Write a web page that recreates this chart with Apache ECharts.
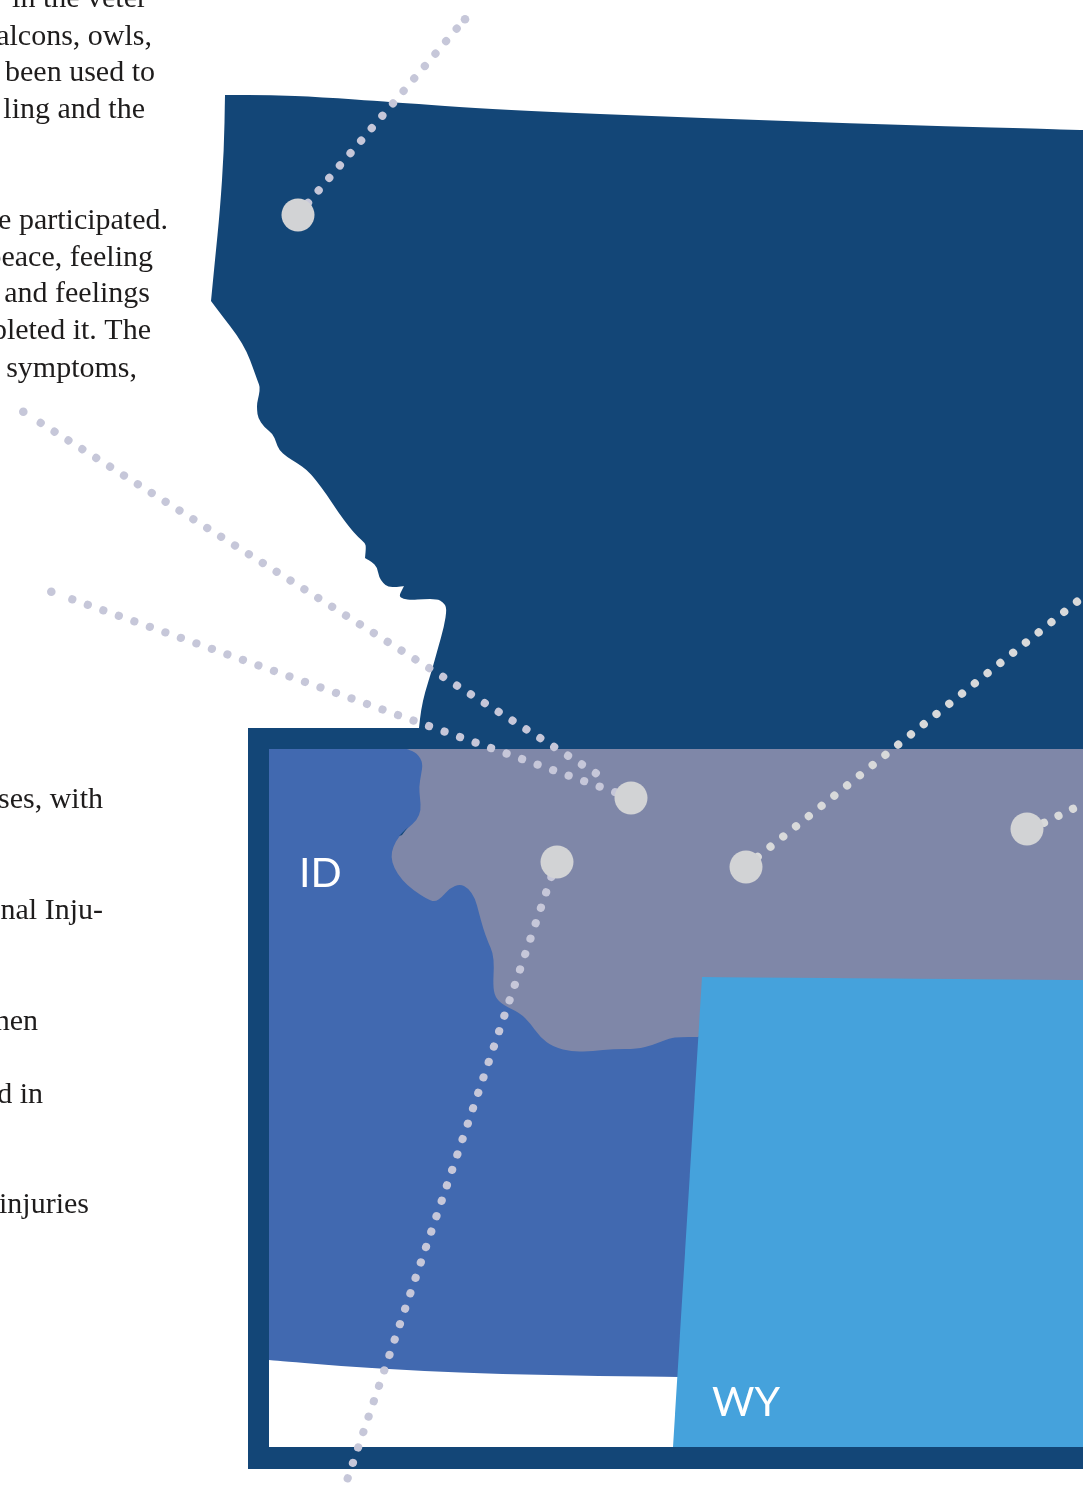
<!DOCTYPE html>
<html><head><meta charset="utf-8">
<style>html,body{margin:0;padding:0;background:#fff;overflow:hidden}#c{width:1083px;height:1492px}</style>
<script src="https://cdn.jsdelivr.net/npm/echarts@6/dist/echarts.min.js"></script>
</head><body><div id="c"></div>
<script>
// Region outlines (x, y). A repeated vertex marks a sharp corner.
var montana = [[225,95],[225,95],[270,95],[320,97],[390,102],[500,110],[700,118],[900,125],[1083,130],[1083,130],
 [1083,1469],[1083,1469],[248,1469],[248,1469],[248,728],[248,728],[419,728],[419,728],
 [421,710],[425,692],[432,670],[438,648],[444,627],[447,608],[443,602],[437,599],[423,599],[412,600],[403,599],[399,596],[402,590],[404,586],[404,586],
 [397,587],[388,587],[383,583],[379,577],[377,567],[372,562],[365,558],[365,558],[366,547],[365,543],[358,537],[350,528],[338,512],[327,495],[315,479],[307,470],[297,463],[287,457],[279,450],[276,442],[273,434],[264,427],[258,418],[257,410],[257,403],[259,395],[260,387],[258,382],[253,368],[247,352],[237,335],[223,317],[211,301],[211,301],
 [215,260],[220,210],[224,150],[225,95],[225,95]];
var innerWhite = [[269,749],[269,749],[1083,749],[1083,749],[1083,1447],[1083,1447],[269,1447],[269,1447]];
var idaho = [[269,749],[269,749],[710,749],[710,749],[690,1377],[690,1377],[600,1376],[500,1374],[420,1371],[340,1366],[269,1360],[269,1360]];
var montanaOverlay = [[407,749],[407,749],[417,753],[423,763],[421,775],[419,787],[420,798],[421,810],[417,820],[408,828],[399,836],[393,847],[391,857],[394,868],[402,880],[413,890],[427,899],[435,902],[442,897],[450,888],[460,884],[468,888],[475,898],[479,913],[483,928],[488,942],[493,953],[494,967],[493,985],[495,997],[503,1005],[520,1013],[530,1023],[540,1037],[553,1047],[573,1052],[593,1051],[613,1049],[637,1049],[653,1045],[670,1038],[680,1037],[698,1037],[698,1037],[720,1020],[720,1020],[1083,1020],[1083,1020],[1083,749],[1083,749]];
var borderSliver = [[399,836],[399,836],[408,827],[408,827],[402,835],[402,835]];
var wyoming = [[702,977],[702,977],[1083,980],[1083,980],[1083,1447],[1083,1447],[673,1447],[673,1447],[702,977]];
// Dotted leader lines (outer end, end at the marker)
var leaderA = [[456.7,28.7],[307,204]];
var leaderB = [[40.7,422.9],[609,781.5]];
var leaderC = [[72.3,599.3],[617,792.8]];
var leaderD = [[347.7,1478.3],[551.5,876.5]];
var leaderE = [[1077,601.7],[757,857.5]];
var leaderF = [[1073,808.7],[1042.5,823.5]];
// Outermost dots of three leaders sit apart from the rest of their line
var leaderTips = [[465,19.3],[23.3,411.7],[51.3,591.7]];
// Marker positions
var markers = [[298,215],[631,798],[557,862],[746,867],[1027,829]];
// Text
var stateLabels = [['ID',299,894],['WY',712,1423]];
var bodyText = [['in the veter',147,14],['falcons, owls,',152,52],['been used to',155,88],['ling and the',145,125],
 ['e participated.',168,236],['peace, feeling',153,273],['and feelings',150,309],['pleted it. The',151,346],['symptoms,',137,384],
 ['ses, with',103,815],['nal Inju-',103,926],['hen',38,1037],['d in',43,1110],['injuries',89,1220]];

function regionSeries(points, color){
  return {type:'custom',coordinateSystem:'cartesian2d',silent:true,clip:false,animation:false,
    data:points,encode:{x:0,y:1},
    renderItem:function(params,api){
      if(params.dataIndex!==0) return null;
      var p=points.map(function(q){return api.coord(q);});
      var d='M'+p[0][0]+' '+p[0][1];
      for(var i=1;i<p.length;i++){
        var n=p[(i+1)%p.length];
        d+=' Q'+p[i][0]+' '+p[i][1]+' '+(p[i][0]+n[0])/2+' '+(p[i][1]+n[1])/2;
      }
      d+=' Z';
      return {type:'path',shape:{pathData:d},style:{fill:color,stroke:null}};
    }};
}
function leaderSeries(points, gap, color){
  return {type:'line',data:points,symbol:'none',silent:true,animation:false,clip:false,z:3,
    lineStyle:{color:color,width:8.2,cap:'round',type:[0.01,gap]}};
}
function textSeries(rows, style, align){
  return {type:'custom',coordinateSystem:'cartesian2d',silent:true,animation:false,clip:false,z:5,
    data:rows.map(function(r){return [r[1],r[2],r[0]];}),
    encode:{x:0,y:1},
    renderItem:function(params,api){
      var c=api.coord([api.value(0),api.value(1)]);
      var s=Object.assign({text:rows[params.dataIndex][0],x:c[0],y:c[1],textAlign:align,textVerticalAlign:'bottom'},style);
      return {type:'text',style:s};
    }};
}
var chart=echarts.init(document.getElementById('c'),null,{renderer:'canvas'});
chart.setOption({
  animation:false,
  backgroundColor:'#ffffff',
  grid:{left:0,right:0,top:0,bottom:0},
  xAxis:{type:'value',min:0,max:1083,show:false},
  yAxis:{type:'value',min:0,max:1492,inverse:true,show:false},
  tooltip:{show:false},
  series:[
    regionSeries(montana,'#134677'),
    regionSeries(innerWhite,'#ffffff'),
    regionSeries(idaho,'#4169b0'),
    regionSeries(montanaOverlay,'#7f87a8'),
    regionSeries(borderSliver,'#134677'),
    regionSeries(wyoming,'#45a2dc'),
    leaderSeries(leaderA,16.34,'#c6c7d9'),
    leaderSeries(leaderB,16.4,'#c6c7d9'),
    leaderSeries(leaderC,16.45,'#c6c7d9'),
    leaderSeries(leaderD,16.27,'#c6c7d9'),
    leaderSeries(leaderE,16.34,'#d8d9da'),
    leaderSeries(leaderF,16.1,'#d8d9da'),
    {type:'scatter',data:leaderTips,symbol:'circle',symbolSize:8.6,silent:true,z:3,clip:false,
      itemStyle:{color:'#c6c7d9',opacity:1}},
    {type:'scatter',data:markers,symbol:'circle',symbolSize:33,silent:true,z:4,clip:false,
      itemStyle:{color:'#d2d3d5',opacity:1}},
    textSeries(stateLabels,{fill:'#ffffff',font:'400 41px Lato'},'left'),
    textSeries(bodyText,{fill:'#1e1c1c',font:'30px "Liberation Serif"'},'right')
  ]
});
</script></body></html>
